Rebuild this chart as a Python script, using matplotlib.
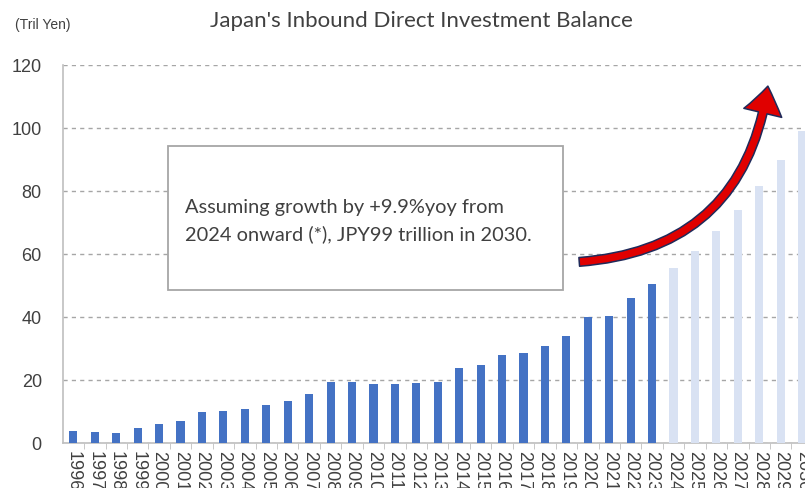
import matplotlib
matplotlib.use("Agg")
import matplotlib.pyplot as plt
from matplotlib.patches import FancyArrowPatch, Rectangle

# Inbound direct investment balance, trillion yen
years = [str(y) for y in range(1996, 2031)]
actual = [3.9, 3.5, 3.2, 4.8, 5.9, 6.9, 9.9, 10.3, 10.7, 12.2, 13.2, 15.7,
          19.5, 19.5, 18.7, 18.7, 18.9, 19.5, 23.8, 24.8, 28.0, 28.6, 30.8,
          34.0, 40.1, 40.3, 46.1, 50.6]
# projection at +9.9% yoy from 2024
projected = [55.6, 61.1, 67.2, 74.1, 81.5, 89.8, 99.0]

dark_blue = "#4472C4"
light_blue = "#D9E2F3"
grey_text = "#404040"

fig = plt.figure(figsize=(8.05, 4.88), dpi=100)
ax = fig.add_axes([0.0778, 0.0922, 0.932, 0.7746])

n_act = len(actual)
ax.bar(range(n_act), actual, width=0.38, color=dark_blue, zorder=3)
ax.bar(range(n_act, n_act + len(projected)), projected, width=0.38,
       color=light_blue, zorder=3)

ax.set_xlim(-0.5, len(years) - 0.5)
ax.set_ylim(0, 120)
ax.set_yticks(range(0, 121, 20))
ax.set_xticks(range(len(years)))
ax.set_xticklabels(years, rotation=270, fontsize=13, color=grey_text,
                   family="Liberation Sans", va="top")
ax.tick_params(axis="x", length=0, pad=6)
ax.set_xticks([i + 0.5 for i in range(len(years))], minor=True)
ax.tick_params(axis="x", which="minor", length=4, color="#BFBFBF")
ax.tick_params(axis="y", length=0, pad=15, labelsize=13, labelcolor=grey_text)
for lbl in ax.get_yticklabels():
    lbl.set_family("Liberation Sans")

ax.grid(axis="y", linestyle=(0, (3, 3)), color="#A6A6A6", linewidth=1, zorder=0)
for side in ["top", "right"]:
    ax.spines[side].set_visible(False)
ax.spines["left"].set_color("#BFBFBF")
ax.spines["bottom"].set_color("#BFBFBF")
ax.spines["left"].set_linewidth(1.2)
ax.spines["bottom"].set_linewidth(1.2)

fig.text(0.5236, 0.957, "Japan's Inbound Direct Investment Balance",
         ha="center", va="center", fontsize=16, family="Lato", color=grey_text)
fig.text(0.0186, 0.9488, "(Tril Yen)", ha="left", va="center",
         fontsize=10, family="Liberation Sans", color=grey_text)

# note box
fig.patches.append(Rectangle((0.2087, 0.4057), 0.4907, 0.2951,
                             transform=fig.transFigure, facecolor="white",
                             edgecolor="#A6A6A6", linewidth=1.3, zorder=5))
fig.text(0.2298, 0.5641, "Assuming growth by +9.9%yoy from",
         ha="left", va="baseline", fontsize=14.4, family="Lato",
         color=grey_text, zorder=6)
fig.text(0.2298, 0.5082, "2024 onward (*), JPY99 trillion in 2030.",
         ha="left", va="baseline", fontsize=14.4, family="Lato",
         color=grey_text, zorder=6)

# curved growth arrow
arrow = FancyArrowPatch((23.6, 57.5), (32.4, 113.3),
                        connectionstyle="arc3,rad=0.4",
                        arrowstyle="simple,head_length=1.4,head_width=2.0,tail_width=0.45",
                        mutation_scale=14, facecolor="#E00000",
                        edgecolor="#1F2A5A", linewidth=1.1, zorder=6,
                        shrinkA=0, shrinkB=0, clip_on=False)
ax.add_patch(arrow)

fig.savefig("out.png", dpi=100)
